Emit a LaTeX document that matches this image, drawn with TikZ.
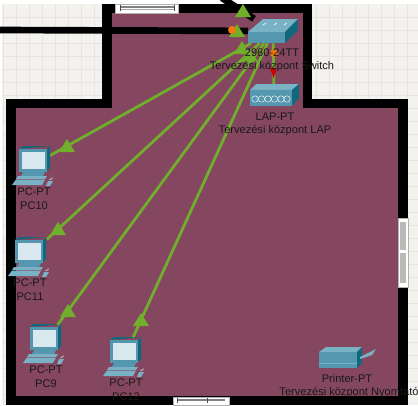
\documentclass[tikz,border=0pt]{standalone}
\usepackage{fontspec}
\setmainfont{Liberation Sans}
\definecolor{floorcol}{HTML}{84475F}
\definecolor{paper}{HTML}{F3F2EE}
\definecolor{gridcol}{HTML}{E6E5DF}
\definecolor{linkgreen}{HTML}{70AE2C}
\definecolor{dotorange}{HTML}{F07A10}
\definecolor{tealtop}{HTML}{79B2C4}
\definecolor{tealfront}{HTML}{5597AE}
\definecolor{tealdark}{HTML}{11687E}
\definecolor{screencol}{HTML}{D9E7EE}
\tikzset{
    device/.style={inner sep=0pt, minimum width=25pt, minimum height=25pt},
    label/.style={font=\fontsize{8.3}{9}\selectfont, inner sep=0pt, text=black!90},
    link/.style={linkgreen, line width=2.1pt},
    cable/.style={black, line width=5pt},
    wall/.style={fill=black},
    winframe/.style={fill=white, draw=gray!60, line width=0.3pt},
    uptri/.pic={\fill[linkgreen] (-8,0) -- (8,0) -- (0,-13) -- cycle;},
    pcicon/.pic={
        \fill[tealdark] (0,0) -- (4,-3) -- (31,-3) -- (28,0) -- (28,22) -- (31,19) -- (31,-3) -- cycle;
        \fill[tealfront] (0,0) rectangle (28,23);
        \fill[screencol] (2.5,2.5) rectangle (25.5,20);
        \fill[tealfront] (4,23) -- (26,23) -- (24,27) -- (2,27) -- cycle;
        \fill[tealtop] (-1,27) -- (28,27) -- (26,30) -- (-3,30) -- cycle;
        \fill[tealtop] (-3,30.5) -- (26,30.5) -- (23,36) -- (-7,36) -- cycle;
        \fill[tealtop] (29,32) -- (34,32) -- (31,37) -- (27,37) -- cycle;
        \draw[gray!60, line width=0.3pt] (30,31) .. controls (34,27) and (36,29) .. (31,31);
    }
}
\begin{document}
\begin{tikzpicture}[x=0.75pt, y=-0.75pt]
\useasboundingbox (0,0) rectangle (418,405);

% Background and grid
\fill[white] (0,0) rectangle (418,405);
\fill[paper] (2,4) rectangle (418,405);
\foreach \gx in {3,16,29,42,55,68,81,94,316,329,342,355,368,381,394,407}
    \draw[gridcol, line width=0.4pt] (\gx,4) -- (\gx,405);
\foreach \gy in {17,30,43,56,69,82,95,108,121,134,147,160,173,186,199,212,225,238,251,264,277,290,303,316,329,342,355,368,381,394}
    \draw[gridcol, line width=0.4pt] (2,\gy) -- (418,\gy);

% Floor
\fill[floorcol] (112,13) -- (303,13) -- (303,108) -- (398,108) -- (398,396) -- (16,396) -- (16,108) -- (112,108) -- cycle;

% Devices (anchors for the links)
\node[device] (pc10) at (33,165) {};
\node[device] (pc11) at (30,255) {};
\node[device] (pc9) at (45,342) {};
\node[device] (pc12) at (125,355) {};
\node[device, minimum width=37pt, minimum height=18pt] (sw) at (273,31) {};
\node[device, minimum width=36pt, minimum height=16pt] (lap) at (274,95) {};
\node[device, minimum width=42pt, minimum height=16pt] (prn) at (345,358) {};
\coordinate (cablewest) at (0,30);
\coordinate (cablenorth) at (222,-2);

% Walls
\fill[wall] (102,4) rectangle (312,13);
\fill[wall] (102,4) rectangle (112,108);
\fill[wall] (6,99) rectangle (112,108);
\fill[wall] (6,99) rectangle (16,405);
\fill[wall] (6,396) rectangle (408,405);
\fill[wall] (303,4) rectangle (312,108);
\fill[wall] (303,99) rectangle (408,108);
\fill[wall] (398,99) rectangle (408,405);

% Windows
\fill[winframe] (115,4) rectangle (178,13);
\fill[gray] (120,6) rectangle (174,8);
\fill[gray!70] (120,9) rectangle (174,10);
\draw[black!70, line width=0.4pt] (120,5) -- (120,11) (174,5) -- (174,11);
\fill[winframe] (398,218) rectangle (408,287);
\fill[gray!55] (400,222) rectangle (406,250);
\fill[gray!55] (400,253) rectangle (406,283);
\fill[winframe] (173,397) rectangle (229,405);
\fill[gray] (177,399) rectangle (225,401);
\draw[black!70, line width=0.4pt] (177,398) -- (177,403) (207,398) -- (207,403);

% Cables and links
\draw[cable] (cablewest) -- (sw);
\draw[cable] (cablenorth) -- (sw);
\draw[link] (pc10) -- (sw);
\draw[link] (pc11) -- (sw);
\draw[link] (pc9) -- (sw);
\draw[link] (pc12) -- (sw);
\draw[link] (sw) -- (lap);

% Link lights
\pic at (243,17) {uptri};
\pic at (237,37) {uptri};
\pic at (242,54) {uptri};
\pic at (250,62) {uptri};
\pic at (67,152) {uptri};
\pic at (58,235) {uptri};
\pic at (68,317) {uptri};
\pic at (141,326) {uptri};
\fill[dotorange] (232,30) circle (3pt);
\fill[dotorange] (274,53) circle (3pt);
\fill[red!80!black] (270,68) -- (277,68) -- (273.5,78) -- cycle;

% Switch
\fill[tealtop] (248,32) -- (263,19) -- (298,19) -- (285,32) -- cycle;
\fill[tealfront] (248,32) rectangle (285,43);
\fill[tealdark] (285,32) -- (298,19) -- (298,30) -- (285,43) -- cycle;
\foreach \lx in {263,274,284}
    \draw[white, line width=0.5pt] (\lx,25) -- (\lx+3,23);

% LAP
\fill[tealtop] (250,90) -- (256,84) -- (299,84) -- (292,90) -- cycle;
\fill[tealfront] (250,90) rectangle (292,106);
\fill[tealdark] (292,90) -- (299,84) -- (299,98) -- (292,106) -- cycle;
\foreach \rx in {255,261.5,268,274.5,281,287}
    \draw[white!85!tealfront, line width=0.4pt] (\rx,99) circle (2.4pt);

% Printer
\fill[tealtop] (319,352) -- (326,347) -- (362,347) -- (357,352) -- cycle;
\fill[tealfront] (319,352) rectangle (357,368);
\draw[tealtop, line width=0.4pt] (319,363) -- (357,363);
\fill[tealdark] (357,352) -- (362,347) -- (362,363) -- (357,368) -- cycle;
\fill[tealtop] (360,357) -- (376,349) -- (372,355) -- (360,359) -- cycle;

% PCs
\pic at (19,149) {pcicon};
\pic at (15,240) {pcicon};
\pic at (30,327) {pcicon};
\pic at (110,340) {pcicon};

% Labels
\node[label] (pc10a) at (34,192) {PC-PT};
\node[label] (pc10b) at (34,206) {PC10};
\node[label] (pc11a) at (30,283) {PC-PT};
\node[label] (pc11b) at (30,297) {PC11};
\node[label] (pc9a) at (46,370) {PC-PT};
\node[label] (pc9b) at (46,384) {PC9};
\node[label] (pc12a) at (126,383) {PC-PT};
\node[label] (pc12b) at (126,397) {PC12};
\node[label] (swa) at (272,53) {2960-24TT};
\node[label] (swb) at (272,67) {Tervezési központ Switch};
\node[label] (lapa) at (275,117) {LAP-PT};
\node[label] (lapb) at (275,131) {Tervezési központ LAP};
\node[label] (prna) at (347,379) {Printer-PT};
\node[label] (prnb) at (349,393) {Tervezési központ Nyomtató};

\end{tikzpicture}
\end{document}
